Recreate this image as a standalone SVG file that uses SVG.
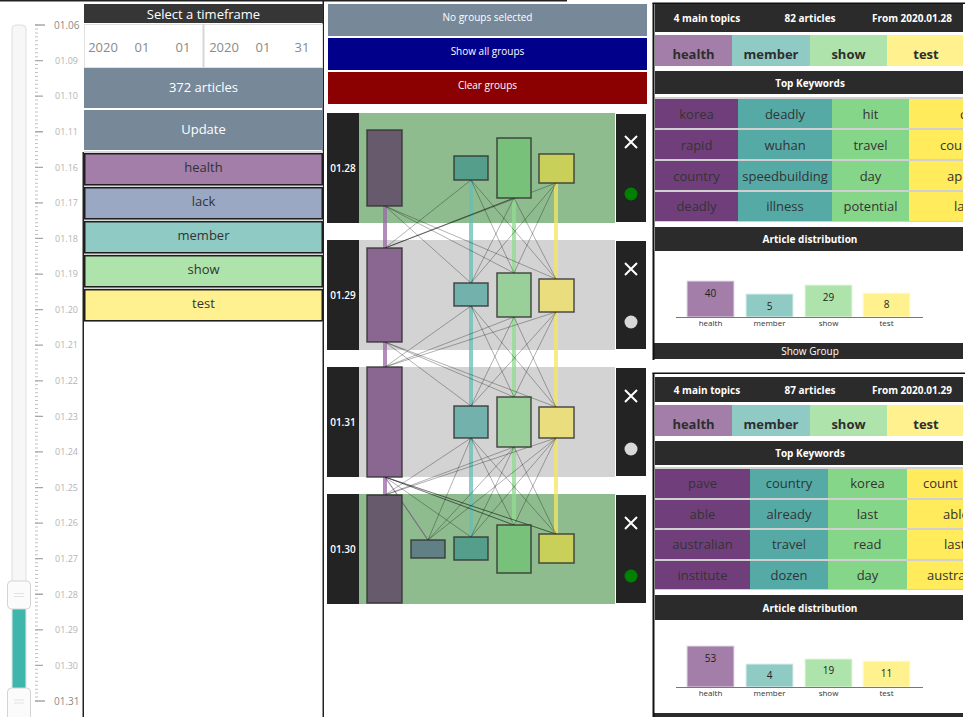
<svg xmlns="http://www.w3.org/2000/svg" width="965" height="717" viewBox="0 0 965 717">
  <style>
    text { font-family: "Open Sans", "Noto Sans", "Liberation Sans", sans-serif; }
    .lbl { font-size: 9px; fill: #b4b4b4; }
    .lblEnd { font-size: 10px; fill: #8a8a8a; }
    .hdr { font-size: 13px; fill: #ffffff; text-anchor: middle; }
    .date { font-size: 13px; fill: #8a8a8a; text-anchor: middle; }
    .btn { font-size: 13px; fill: #ffffff; text-anchor: middle; }
    .topic { font-size: 13px; fill: #333; text-anchor: middle; }
    .small { font-size: 10px; fill: #ffffff; text-anchor: middle; }
    .rowlbl { font-size: 10px; fill: #ffffff; text-anchor: middle; font-weight: 600; }
    .bold { font-size: 10px; fill: #ffffff; text-anchor: middle; font-weight: 700; }
    .tname { font-size: 13px; fill: #2e2e2e; text-anchor: middle; font-weight: 700; }
    .kw { font-size: 13px; fill: #333; text-anchor: middle; }
    .kwl { font-size: 13px; fill: #333; }
    .val { font-size: 10px; fill: #222; text-anchor: middle; }
    .axis { font-size: 8px; fill: #333; text-anchor: middle; }
    .edge { stroke: #000; stroke-opacity: 0.3; stroke-width: 1; fill: none; }
    .node { stroke: #333; stroke-opacity: 0.85; stroke-width: 1.5; }
    .cross { stroke: #fff; stroke-width: 2; }
  </style>
  <defs>
    <clipPath id="panelClip">
      <rect x="653" y="0" width="310" height="717"/>
    </clipPath>
  </defs>

  <rect width="965" height="717" fill="#ffffff"/>
  <!-- page frame lines -->
  <rect x="0" y="0" width="567" height="1.5" fill="#222"/>
  <rect x="322.5" y="0" width="1.5" height="717" fill="#222"/>
  <rect x="82.5" y="152" width="1.5" height="565" fill="#222"/>

  <!-- date slider -->
  <g id="slider">
    <rect x="12" y="25" width="14" height="700" rx="4" fill="#f7f7f7" stroke="#dedede"/>
    <rect x="12.5" y="606" width="13" height="84" fill="#3eb6ab"/>
    <!-- minor ticks: one dash per day step -->
    <line x1="36.5" y1="24.5" x2="36.5" y2="701.5" stroke="#c2c2c2" stroke-width="3" stroke-dasharray="1 2.9532"/>
    <path d="M35 25h10M35 60.58h8M35 96.16h8M35 131.74h8M35 167.32h8M35 202.89h8M35 238.47h8M35 274.05h8M35 309.63h8M35 345.21h8M35 380.79h8M35 416.37h8M35 451.95h8M35 487.53h8M35 523.11h8M35 558.68h8M35 594.26h8M35 629.84h8M35 665.42h8M35 701h10" stroke="#a8a8a8" stroke-width="1.3"/>
    <text class="lblEnd" x="54" y="28.5">01.06</text>
    <text class="lbl" x="55" y="63.8">01.09</text>
    <text class="lbl" x="55" y="99.4">01.10</text>
    <text class="lbl" x="55" y="135">01.11</text>
    <text class="lbl" x="55" y="170.5">01.16</text>
    <text class="lbl" x="55" y="206.1">01.17</text>
    <text class="lbl" x="55" y="241.7">01.18</text>
    <text class="lbl" x="55" y="277.3">01.19</text>
    <text class="lbl" x="55" y="312.9">01.20</text>
    <text class="lbl" x="55" y="348.4">01.21</text>
    <text class="lbl" x="55" y="384">01.22</text>
    <text class="lbl" x="55" y="419.6">01.23</text>
    <text class="lbl" x="55" y="455.2">01.24</text>
    <text class="lbl" x="55" y="490.8">01.25</text>
    <text class="lbl" x="55" y="526.3">01.26</text>
    <text class="lbl" x="55" y="561.9">01.27</text>
    <text class="lbl" x="55" y="597.5">01.28</text>
    <text class="lbl" x="55" y="633.1">01.29</text>
    <text class="lbl" x="55" y="668.7">01.30</text>
    <text class="lblEnd" x="54" y="704.5">01.31</text>
    <g id="handleLow">
      <rect x="7.5" y="581" width="23" height="28" rx="4" fill="#fbfbfb" stroke="#d4d4d4"/>
      <path d="M14 593.5h10M14 596.5h10" stroke="#e2e2e2"/>
    </g>
    <g id="handleHigh">
      <rect x="7.5" y="688" width="23" height="34" rx="4" fill="#fbfbfb" stroke="#d4d4d4"/>
      <path d="M14 700h10M14 703h10" stroke="#e2e2e2"/>
    </g>
  </g>

  <!-- timeframe controls -->
  <g id="timeframe">
    <rect x="84" y="4" width="239" height="19" fill="#363636"/>
    <text class="hdr" x="203.5" y="19">Select a timeframe</text>
    <rect x="84.5" y="24.5" width="238" height="43" fill="#fff" stroke="#e0e0e0"/>
    <rect x="202.5" y="24" width="2" height="44" fill="#d6d6d6"/>
    <text class="date" x="103" y="52">2020</text>
    <text class="date" x="142" y="52">01</text>
    <text class="date" x="183" y="52">01</text>
    <text class="date" x="224" y="52">2020</text>
    <text class="date" x="263" y="52">01</text>
    <text class="date" x="302" y="52">31</text>
  </g>
  <g id="articleCount">
    <rect x="84" y="68" width="239" height="40" fill="#778899"/>
    <text class="btn" x="203.5" y="92">372 articles</text>
  </g>
  <g id="update">
    <rect x="84" y="110" width="239" height="40" fill="#778899"/>
    <text class="btn" x="203.5" y="134">Update</text>
  </g>

  <!-- topic list -->
  <g id="topicList">
    <rect x="84" y="151" width="239" height="171" fill="#d8d8d8"/>
    <g id="topic-health">
      <rect x="84.75" y="153.75" width="237.5" height="31" fill="#a27ea8" stroke="#1e1e1e" stroke-width="1.5"/>
      <text class="topic" x="203.5" y="171.5">health</text>
    </g>
    <g id="topic-lack">
      <rect x="84.75" y="187.75" width="237.5" height="31" fill="#9ba8c4" stroke="#1e1e1e" stroke-width="1.5"/>
      <text class="topic" x="203.5" y="205.5">lack</text>
    </g>
    <g id="topic-member">
      <rect x="84.75" y="221.75" width="237.5" height="31" fill="#8fcac4" stroke="#1e1e1e" stroke-width="1.5"/>
      <text class="topic" x="203.5" y="239.5">member</text>
    </g>
    <g id="topic-show">
      <rect x="84.75" y="255.75" width="237.5" height="31" fill="#aee4ab" stroke="#1e1e1e" stroke-width="1.5"/>
      <text class="topic" x="203.5" y="273.5">show</text>
    </g>
    <g id="topic-test">
      <rect x="84.75" y="289.75" width="237.5" height="31" fill="#fff18f" stroke="#1e1e1e" stroke-width="1.5"/>
      <text class="topic" x="203.5" y="307.5">test</text>
    </g>
  </g>

  <!-- group buttons -->
  <g id="noGroups">
    <rect x="328" y="4" width="319" height="32" fill="#778899"/>
    <text class="small" x="487.5" y="20.5">No groups selected</text>
  </g>
  <g id="showAll">
    <rect x="328" y="38" width="319" height="32" fill="#00008b"/>
    <text class="small" x="487.5" y="54.5">Show all groups</text>
  </g>
  <g id="clearGroups">
    <rect x="328" y="72" width="319" height="32" fill="#8b0000"/>
    <text class="small" x="487.5" y="88.5">Clear groups</text>
  </g>

  <!-- day rows: label, background, controls -->
  <g id="row-0128">
    <rect x="327" y="113" width="32" height="110" fill="#232323"/>
    <text class="rowlbl" x="343" y="171.5">01.28</text>
    <rect x="359" y="113" width="256" height="110" fill="#8fbc8f"/>
    <rect x="616" y="114" width="30" height="108" fill="#232323"/>
    <path class="cross" d="M625 136l12 12M637 136l-12 12"/>
    <circle cx="631" cy="194" r="6.5" fill="#008000"/>
  </g>
  <g id="row-0129">
    <rect x="327" y="240" width="32" height="110" fill="#232323"/>
    <text class="rowlbl" x="343" y="298.5">01.29</text>
    <rect x="359" y="240" width="256" height="110" fill="#d3d3d3"/>
    <rect x="616" y="241" width="30" height="108" fill="#232323"/>
    <path class="cross" d="M625 263l12 12M637 263l-12 12"/>
    <circle cx="631" cy="322" r="6.5" fill="#d8d8d8"/>
  </g>
  <g id="row-0131">
    <rect x="327" y="367" width="32" height="110" fill="#232323"/>
    <text class="rowlbl" x="343" y="425.5">01.31</text>
    <rect x="359" y="367" width="256" height="110" fill="#d3d3d3"/>
    <rect x="616" y="368" width="30" height="108" fill="#232323"/>
    <path class="cross" d="M625 390l12 12M637 390l-12 12"/>
    <circle cx="631" cy="449" r="6.5" fill="#d8d8d8"/>
  </g>
  <g id="row-0130">
    <rect x="327" y="494" width="32" height="110" fill="#232323"/>
    <text class="rowlbl" x="343" y="552.5">01.30</text>
    <rect x="359" y="494" width="256" height="110" fill="#8fbc8f"/>
    <rect x="616" y="495" width="30" height="108" fill="#232323"/>
    <path class="cross" d="M625 517l12 12M637 517l-12 12"/>
    <circle cx="631" cy="576" r="6.5" fill="#008000"/>
  </g>

  <!-- connectors -->
  <g id="connectors">
    <g id="topicThreads" stroke-width="4" stroke-opacity="0.75">
      <line x1="385" y1="206" x2="385" y2="495" stroke="#9a66a6"/>
      <line x1="471" y1="180" x2="471" y2="537" stroke="#66bdb5"/>
      <line x1="514" y1="198" x2="514" y2="525" stroke="#8fdc8f"/>
      <line x1="556" y1="183" x2="556" y2="534" stroke="#f5e562"/>
    </g>
    <g id="edges-28-29">
      <path class="edge" d="M385 206L471 283M385 206L514 273M385 206L556 279"/>
      <path class="edge" d="M471 180L385 248M471 180L514 273M471 180L556 279"/>
      <path class="edge" d="M514 198L385 248M514 198L471 283M514 198L556 279"/>
      <path class="edge" d="M556 183L385 248M556 183L471 283M556 183L514 273"/>
      <path class="edge" d="M514 198L385 248" stroke-width="1.6"/>
    </g>
    <g id="edges-29-31">
      <path class="edge" d="M385 342L471 406M385 342L514 397M385 342L556 407"/>
      <path class="edge" d="M471 306L385 367M471 306L514 397M471 306L556 407"/>
      <path class="edge" d="M514 317L385 367M514 317L471 406M514 317L556 407"/>
      <path class="edge" d="M556 312L385 367M556 312L471 406M556 312L514 397"/>
    </g>
    <g id="edges-31-30">
      <path class="edge" d="M385 477L471 537M385 477L514 525M385 477L556 534"/>
      <path d="M385 477L428 540" stroke="#6a3a7a" stroke-opacity="0.6" stroke-width="1.2" fill="none"/>
      <path class="edge" d="M471 438L385 495M471 438L428 540M471 438L514 525M471 438L556 534"/>
      <path class="edge" d="M514 447L385 495M514 447L428 540M514 447L471 537M514 447L556 534"/>
      <path class="edge" d="M556 438L385 495M556 438L428 540M556 438L471 537M556 438L514 525"/>
      <path class="edge" d="M385 477L514 525M385 477L556 534" stroke-width="1.4"/>
    </g>
  </g>

  <!-- topic nodes per day -->
  <g id="n-0128-health"><rect class="node" x="367" y="130" width="35" height="76" fill="#665a6c"/></g>
  <g id="n-0128-member"><rect class="node" x="454" y="156" width="34" height="24" fill="#559e8b"/></g>
  <g id="n-0128-show"><rect class="node" x="497" y="138" width="34" height="60" fill="#78c17a"/></g>
  <g id="n-0128-test"><rect class="node" x="539" y="154" width="35" height="29" fill="#c9d05a"/></g>

  <g id="n-0129-health"><rect class="node" x="367" y="248" width="35" height="94" fill="#8a6791"/></g>
  <g id="n-0129-member"><rect class="node" x="454" y="283" width="34" height="23" fill="#73b1ad"/></g>
  <g id="n-0129-show"><rect class="node" x="497" y="273" width="34" height="44" fill="#99d09a"/></g>
  <g id="n-0129-test"><rect class="node" x="539" y="279" width="35" height="33" fill="#e9dd7d"/></g>

  <g id="n-0131-health"><rect class="node" x="367" y="367" width="35" height="110" fill="#8a6791"/></g>
  <g id="n-0131-member"><rect class="node" x="454" y="406" width="34" height="32" fill="#73b1ad"/></g>
  <g id="n-0131-show"><rect class="node" x="497" y="397" width="34" height="50" fill="#99d09a"/></g>
  <g id="n-0131-test"><rect class="node" x="539" y="407" width="35" height="31" fill="#e9dd7d"/></g>

  <g id="n-0130-health"><rect class="node" x="367" y="495" width="35" height="108" fill="#675a6d"/></g>
  <g id="n-0130-lack"><rect class="node" x="411" y="540" width="34" height="18" fill="#618086"/></g>
  <g id="n-0130-member"><rect class="node" x="454" y="537" width="34" height="23" fill="#559e8b"/></g>
  <g id="n-0130-show"><rect class="node" x="497" y="525" width="34" height="48" fill="#78c17a"/></g>
  <g id="n-0130-test"><rect class="node" x="539" y="534" width="35" height="29" fill="#c9d05a"/></g>

  <!-- group summary card: 01.28 -->
  <g id="card-0128" clip-path="url(#panelClip)">
    <rect x="653" y="3" width="312" height="357" fill="#fff"/>
    <rect x="655" y="4" width="310" height="28" fill="#2b2b2b"/>
    <text class="bold" x="707" y="22">4 main topics</text>
    <text class="bold" x="810" y="22">82 articles</text>
    <text class="bold" x="912" y="22">From 2020.01.28</text>

    <rect x="655" y="35" width="77" height="31" fill="#a27ea8"/>
    <rect x="732" y="35" width="78" height="31" fill="#8fcac4"/>
    <rect x="810" y="35" width="77" height="31" fill="#aee4ab"/>
    <rect x="887" y="35" width="78" height="31" fill="#fff18e"/>
    <text class="tname" x="693.5" y="59">health</text>
    <text class="tname" x="771" y="59">member</text>
    <text class="tname" x="848.5" y="59">show</text>
    <text class="tname" x="926" y="59">test</text>

    <rect x="655" y="71" width="310" height="23" fill="#2b2b2b"/>
    <text class="bold" x="810" y="86.5">Top Keywords</text>

    <rect x="655" y="97" width="310" height="125" fill="#d0d0d0"/>
    <g id="kw-0128-health" fill="#703f7b">
      <rect x="655" y="99" width="83" height="29"/><rect x="655" y="130" width="83" height="29"/>
      <rect x="655" y="161" width="83" height="29"/><rect x="655" y="192" width="83" height="29"/>
    </g>
    <g id="kw-0128-member" fill="#55aaa6">
      <rect x="738" y="99" width="94" height="29"/><rect x="738" y="130" width="94" height="29"/>
      <rect x="738" y="161" width="94" height="29"/><rect x="738" y="192" width="94" height="29"/>
    </g>
    <g id="kw-0128-show" fill="#86d68a">
      <rect x="832" y="99" width="77" height="29"/><rect x="832" y="130" width="77" height="29"/>
      <rect x="832" y="161" width="77" height="29"/><rect x="832" y="192" width="77" height="29"/>
    </g>
    <g id="kw-0128-test" fill="#ffeb5b">
      <rect x="909" y="99" width="56" height="29"/><rect x="909" y="130" width="56" height="29"/>
      <rect x="909" y="161" width="56" height="29"/><rect x="909" y="192" width="56" height="29"/>
    </g>
    <text class="kw" x="696.5" y="118.5">korea</text>
    <text class="kw" x="785" y="118.5">deadly</text>
    <text class="kw" x="870.5" y="118.5">hit</text>
    <text class="kwl" x="960" y="118.5">c</text>
    <text class="kw" x="696.5" y="149.5">rapid</text>
    <text class="kw" x="785" y="149.5">wuhan</text>
    <text class="kw" x="870.5" y="149.5">travel</text>
    <text class="kwl" x="940" y="149.5">cou</text>
    <text class="kw" x="696.5" y="180.5">country</text>
    <text class="kw" x="785" y="180.5">speedbuilding</text>
    <text class="kw" x="870.5" y="180.5">day</text>
    <text class="kwl" x="947" y="180.5">ap</text>
    <text class="kw" x="696.5" y="211">deadly</text>
    <text class="kw" x="785" y="211">illness</text>
    <text class="kw" x="870.5" y="211">potential</text>
    <text class="kwl" x="954" y="211">la</text>

    <rect x="655" y="227" width="310" height="24" fill="#2b2b2b"/>
    <text class="bold" x="810" y="243">Article distribution</text>

    <rect x="687" y="281" width="47" height="36" fill="#a27ea8" stroke="#e6dcea"/>
    <rect x="746" y="294" width="47" height="23" fill="#8fcac4" stroke="#e0f0ee"/>
    <rect x="805" y="285" width="47" height="32" fill="#aee4ab" stroke="#e6f6e5"/>
    <rect x="863" y="293" width="47" height="24" fill="#fff18e" stroke="#fffbe0"/>
    <line x1="676" y1="317.5" x2="923" y2="317.5" stroke="#777" stroke-width="1.2"/>
    <text class="val" x="710.5" y="297">40</text>
    <text class="val" x="769.5" y="310">5</text>
    <text class="val" x="828.5" y="301">29</text>
    <text class="val" x="886.5" y="308">8</text>
    <text class="axis" x="710.5" y="326">health</text>
    <text class="axis" x="769.5" y="326">member</text>
    <text class="axis" x="828.5" y="326">show</text>
    <text class="axis" x="886.5" y="326">test</text>

    <rect x="653" y="343" width="312" height="16" fill="#2b2b2b"/>
    <text class="small" x="810" y="355">Show Group</text>
  </g>
  <rect x="652.5" y="3" width="2" height="357" fill="#111"/>
  <rect x="652.5" y="2.5" width="312.5" height="1.5" fill="#111"/>

  <!-- group summary card: 01.29 -->
  <g id="card-0129" clip-path="url(#panelClip)">
    <rect x="653" y="373" width="312" height="344" fill="#fff"/>
    <rect x="655" y="377" width="310" height="25" fill="#2b2b2b"/>
    <text class="bold" x="707" y="393.5">4 main topics</text>
    <text class="bold" x="810" y="393.5">87 articles</text>
    <text class="bold" x="912" y="393.5">From 2020.01.29</text>

    <rect x="655" y="405" width="77" height="31" fill="#a27ea8"/>
    <rect x="732" y="405" width="78" height="31" fill="#8fcac4"/>
    <rect x="810" y="405" width="77" height="31" fill="#aee4ab"/>
    <rect x="887" y="405" width="78" height="31" fill="#fff18e"/>
    <text class="tname" x="693.5" y="429">health</text>
    <text class="tname" x="771" y="429">member</text>
    <text class="tname" x="848.5" y="429">show</text>
    <text class="tname" x="926" y="429">test</text>

    <rect x="655" y="441" width="310" height="24" fill="#2b2b2b"/>
    <text class="bold" x="810" y="457">Top Keywords</text>

    <rect x="655" y="467" width="310" height="123" fill="#d0d0d0"/>
    <g id="kw-0129-health" fill="#703f7b">
      <rect x="655" y="469" width="95" height="29"/><rect x="655" y="500" width="95" height="28"/>
      <rect x="655" y="530" width="95" height="29"/><rect x="655" y="561" width="95" height="28"/>
    </g>
    <g id="kw-0129-member" fill="#55aaa6">
      <rect x="750" y="469" width="78" height="29"/><rect x="750" y="500" width="78" height="28"/>
      <rect x="750" y="530" width="78" height="29"/><rect x="750" y="561" width="78" height="28"/>
    </g>
    <g id="kw-0129-show" fill="#86d68a">
      <rect x="828" y="469" width="79" height="29"/><rect x="828" y="500" width="79" height="28"/>
      <rect x="828" y="530" width="79" height="29"/><rect x="828" y="561" width="79" height="28"/>
    </g>
    <g id="kw-0129-test" fill="#ffeb5b">
      <rect x="907" y="469" width="58" height="29"/><rect x="907" y="500" width="58" height="28"/>
      <rect x="907" y="530" width="58" height="29"/><rect x="907" y="561" width="58" height="28"/>
    </g>
    <text class="kw" x="702.5" y="488">pave</text>
    <text class="kw" x="789" y="488">country</text>
    <text class="kw" x="867.5" y="488">korea</text>
    <text class="kwl" x="923" y="488">count</text>
    <text class="kw" x="702.5" y="518.5">able</text>
    <text class="kw" x="789" y="518.5">already</text>
    <text class="kw" x="867.5" y="518.5">last</text>
    <text class="kwl" x="943" y="518.5">able</text>
    <text class="kw" x="702.5" y="549">australian</text>
    <text class="kw" x="789" y="549">travel</text>
    <text class="kw" x="867.5" y="549">read</text>
    <text class="kwl" x="944" y="549">last</text>
    <text class="kw" x="702.5" y="579.5">institute</text>
    <text class="kw" x="789" y="579.5">dozen</text>
    <text class="kw" x="867.5" y="579.5">day</text>
    <text class="kwl" x="927" y="579.5">austra</text>

    <rect x="655" y="595" width="310" height="25" fill="#2b2b2b"/>
    <text class="bold" x="810" y="611.5">Article distribution</text>

    <rect x="687" y="646" width="47" height="41" fill="#a27ea8" stroke="#e6dcea"/>
    <rect x="746" y="664" width="47" height="23" fill="#8fcac4" stroke="#e0f0ee"/>
    <rect x="805" y="659" width="47" height="28" fill="#aee4ab" stroke="#e6f6e5"/>
    <rect x="863" y="661" width="47" height="26" fill="#fff18e" stroke="#fffbe0"/>
    <line x1="676" y1="687.5" x2="923" y2="687.5" stroke="#777" stroke-width="1.2"/>
    <text class="val" x="710.5" y="662">53</text>
    <text class="val" x="769.5" y="679">4</text>
    <text class="val" x="828.5" y="674">19</text>
    <text class="val" x="886.5" y="677">11</text>
    <text class="axis" x="710.5" y="696">health</text>
    <text class="axis" x="769.5" y="696">member</text>
    <text class="axis" x="828.5" y="696">show</text>
    <text class="axis" x="886.5" y="696">test</text>

    <rect x="653" y="713" width="312" height="16" fill="#2b2b2b"/>
    <text class="small" x="810" y="725">Show Group</text>
  </g>
  <rect x="652.5" y="373" width="2" height="344" fill="#111"/>
  <rect x="652.5" y="372.5" width="312.5" height="1.5" fill="#111"/>
</svg>
